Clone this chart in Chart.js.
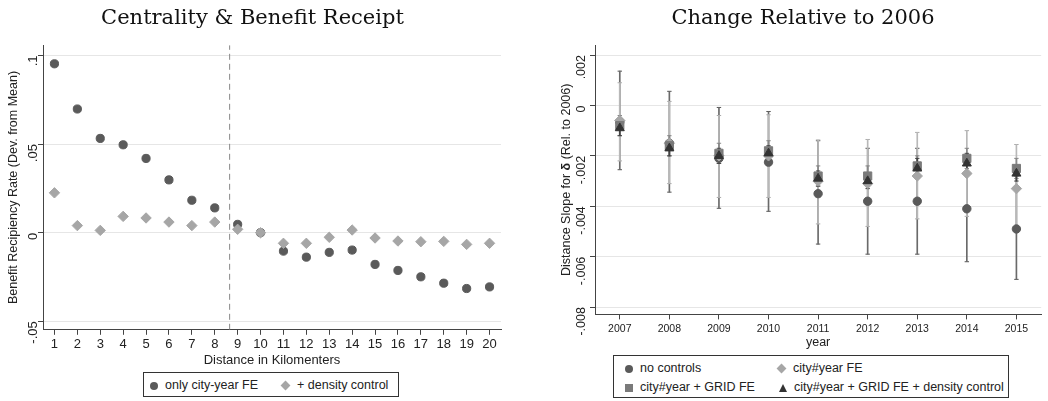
<!DOCTYPE html>
<html>
<head>
<meta charset="utf-8">
<script src="https://cdn.jsdelivr.net/npm/chart.js@4.4.0/dist/chart.umd.min.js"></script>
<style>
body { margin: 0; background: #fff; width: 1048px; height: 401px; overflow: hidden; position: relative; font-family: "Liberation Sans", Arial, sans-serif; }
#leftBox { position: absolute; left: 0; top: 0; width: 510px; height: 368px; }
#rightBox { position: absolute; left: 540px; top: 0; width: 508px; height: 350px; }
.legend { position: absolute; border: 1px solid #333; font-size: 12.5px; color: #222; box-sizing: border-box; }
.item { position: absolute; white-space: nowrap; line-height: 14px; }
.mk { display: inline-block; vertical-align: middle; margin-right: 7px; }
.circ { width: 8px; height: 8px; border-radius: 50%; }
.diam { width: 7px; height: 7px; transform: rotate(45deg); margin-left: 1px; margin-right: 8px; }
.sq { width: 8px; height: 8px; }
.tri { width: 0; height: 0; border-left: 4.5px solid transparent; border-right: 4.5px solid transparent; border-bottom: 8px solid #333; }
</style>
</head>
<body>
<div id="leftBox"><canvas id="leftChart"></canvas></div>
<div id="rightBox"><canvas id="rightChart"></canvas></div>

<div class="legend" style="left:143px; top:372px; width:256px; height:25px;">
  <div class="item" style="left:6px; top:5px;"><span class="mk circ" style="background:#5a5a5a"></span>only city-year FE</div>
  <div class="item" style="left:137px; top:5px;"><span class="mk diam" style="background:#a6a6a6"></span>+ density control</div>
</div>

<div class="legend" style="left:613px; top:355px; width:396px; height:43px;">
  <div class="item" style="left:11px; top:5px;"><span class="mk circ" style="background:#5a5a5a"></span>no controls</div>
  <div class="item" style="left:163px; top:5px;"><span class="mk diam" style="background:#a6a6a6"></span>city#year FE</div>
  <div class="item" style="left:11px; top:24px;"><span class="mk sq" style="background:#7a7a7a"></span>city#year + GRID FE</div>
  <div class="item" style="left:165px; top:24px;"><span class="mk tri"></span>city#year + GRID FE + density control</div>
</div>

<script>
// Left panel data
const distances = [1, 2, 3, 4, 5, 6, 7, 8, 9, 10, 11, 12, 13, 14, 15, 16, 17, 18, 19, 20];
const onlyCityYear = [0.0953, 0.0698, 0.0532, 0.0496, 0.0419, 0.0298, 0.0183, 0.0140, 0.0047, 0.0,
    -0.0104, -0.0138, -0.0111, -0.0098, -0.0179, -0.0213, -0.0249, -0.0285, -0.0315, -0.0306];
const densityControl = [0.0225, 0.0040, 0.0013, 0.0092, 0.0083, 0.0060, 0.0040, 0.0060, 0.0019, 0.0,
    -0.0060, -0.0060, -0.0026, 0.0015, -0.0030, -0.0047, -0.0051, -0.0049, -0.0066, -0.0060];
const cutoff = 8.65;
const leftYTicks = [-0.05, 0, 0.05, 0.1];

// Right panel data
const years = ['2007', '2008', '2009', '2010', '2011', '2012', '2013', '2014', '2015'];
const noCtrlEst = [-0.00065, -0.0015, -0.0021, -0.00225, -0.0035, -0.0038, -0.0038, -0.0041, -0.0049];
const noCtrlLo = [-0.00255, -0.00344, -0.00408, -0.0042, -0.0055, -0.0059, -0.0059, -0.0062, -0.0069];
const noCtrlHi = [0.00136, 0.00056, -0.00008, -0.00024, -0.0014, -0.0017, -0.0017, -0.0020, -0.0028];
const cityEst = [-0.0006, -0.0015, -0.0020, -0.0020, -0.0030, -0.0031, -0.0028, -0.0027, -0.0033];
const cityLo = [-0.0022, -0.0031, -0.00365, -0.00365, -0.0047, -0.0048, -0.0045, -0.0044, -0.0050];
const cityHi = [0.0009, 0.00016, -0.0004, -0.00037, -0.00137, -0.00135, -0.00107, -0.0010, -0.00155];
const gridEst = [-0.0008, -0.0016, -0.0019, -0.0018, -0.0028, -0.0028, -0.0024, -0.0021, -0.0025];
const gridLo = [-0.0012, -0.0020, -0.0023, -0.0022, -0.0032, -0.0032, -0.0028, -0.0025, -0.0029];
const gridHi = [-0.0004, -0.0012, -0.0015, -0.0014, -0.0024, -0.0024, -0.0020, -0.0017, -0.0021];
const densEst = [-0.0009, -0.0017, -0.0020, -0.0019, -0.0029, -0.0030, -0.0025, -0.0023, -0.0027];
const densLo = [-0.0012, -0.0020, -0.0023, -0.0022, -0.0032, -0.0033, -0.0029, -0.0027, -0.0030];
const densHi = [-0.0006, -0.0014, -0.0017, -0.0016, -0.0026, -0.0027, -0.0021, -0.0019, -0.0024];
const rightYTicks = [-0.008, -0.006, -0.004, -0.002, 0, 0.002];

const stataNum = v => v === 0 ? '0' : String(v).replace('0.', '.');
const sans = '"Liberation Sans", Arial, sans-serif';
const serif = '"DejaVu Serif", "Liberation Serif", serif';

// Left chart
new Chart(document.getElementById('leftChart').getContext('2d'), {
    type: 'scatter',
    data: {
        datasets: [
            {
                label: '+ density control',
                data: distances.map((d, i) => ({ x: d, y: densityControl[i] })),
                pointStyle: 'rectRot',
                pointRadius: 5.2,
                backgroundColor: '#a6a6a6',
                borderColor: '#a6a6a6',
                order: 0,
            },
            {
                label: 'only city-year FE',
                data: distances.map((d, i) => ({ x: d, y: onlyCityYear[i] })),
                pointStyle: 'circle',
                pointRadius: 4.1,
                backgroundColor: '#5a5a5a',
                borderColor: '#5a5a5a',
                order: 1,
            },
            {
                label: 'cutoff',
                type: 'line',
                data: [{ x: cutoff, y: -0.0548 }, { x: cutoff, y: 0.1058 }],
                borderColor: '#888',
                borderWidth: 1,
                borderDash: [6, 4],
                pointRadius: 0,
                order: 2,
            },
        ],
    },
    options: {
        animation: false,
        responsive: true,
        maintainAspectRatio: false,
        layout: { padding: { top: 0, right: 9, bottom: 0, left: 4 } },
        plugins: {
            legend: { display: false },
            tooltip: { enabled: false },
            title: {
                display: true,
                text: 'Centrality & Benefit Receipt',
                color: '#111',
                font: { family: serif, size: 21, weight: 'normal' },
                padding: { top: 6, bottom: 14 },
            },
        },
        scales: {
            x: {
                type: 'linear',
                min: 0.5,
                max: 20.5,
                afterBuildTicks: scale => { scale.ticks = distances.map(v => ({ value: v })); },
                ticks: { color: '#222', font: { family: sans, size: 13 }, padding: 2, maxRotation: 0 },
                grid: { drawOnChartArea: false, tickLength: 5, tickColor: '#444' },
                border: { color: '#444', width: 1 },
                title: { display: true, text: 'Distance in Kilomenters', color: '#222', font: { family: sans, size: 13 }, padding: { top: -2, bottom: 0 } },
            },
            y: {
                min: -0.0548,
                max: 0.1058,
                afterBuildTicks: scale => { scale.ticks = leftYTicks.map(v => ({ value: v })); },
                afterFit: scale => { scale.width = 39; },
                ticks: { color: '#222', font: { family: sans, size: 13 }, minRotation: 90, maxRotation: 90, padding: 5, callback: stataNum },
                grid: { color: '#e6e6e6', lineWidth: 1, tickLength: 5, tickColor: '#444' },
                border: { color: '#444', width: 1 },
                title: { display: true, text: 'Benefit Recipiency Rate (Dev. from Mean)', color: '#222', font: { family: sans, size: 12.5 }, padding: { top: 2, bottom: 0 } },
            },
        },
    },
});

// Right chart
const ciBar = (lo, hi, color, order) => ({
    type: 'bar',
    data: years.map((y, i) => [lo[i], hi[i]]),
    backgroundColor: color,
    barThickness: 1,
    grouped: false,
    order: order,
});
const ciCap = (vals, color, order) => ({
    type: 'line',
    data: vals,
    showLine: false,
    pointStyle: 'line',
    pointRadius: 2.2,
    borderWidth: 1,
    borderColor: color,
    order: order,
});
const marker = (vals, style, radius, color, order) => ({
    type: 'line',
    data: vals,
    showLine: false,
    pointStyle: style,
    pointRadius: radius,
    backgroundColor: color,
    borderColor: color,
    order: order,
});

// y title with a bold delta, drawn where the axis title sits
const deltaTitle = {
    id: 'deltaTitle',
    afterDraw(chart) {
        const { ctx, chartArea } = chart;
        const ys = chart.scales.y;
        const parts = [
            ['Distance Slope for ', 'normal'],
            ['δ', 'bold'],
            [' (Rel. to 2006)', 'normal'],
        ];
        ctx.save();
        ctx.fillStyle = '#222';
        ctx.textBaseline = 'middle';
        ctx.textAlign = 'left';
        let total = 0;
        parts.forEach(p => {
            ctx.font = p[1] + ' 12.5px ' + sans;
            total += ctx.measureText(p[0]).width;
        });
        ctx.translate(ys.left + 9, (chartArea.top + chartArea.bottom) / 2);
        ctx.rotate(-Math.PI / 2);
        let x = -total / 2;
        parts.forEach(p => {
            ctx.font = p[1] + ' 12.5px ' + sans;
            ctx.fillText(p[0], x, 0);
            x += ctx.measureText(p[0]).width;
        });
        ctx.restore();
    },
};

new Chart(document.getElementById('rightChart').getContext('2d'), {
    type: 'bar',
    data: {
        labels: years,
        datasets: [
            marker(densEst, 'triangle', 5.2, '#333333', 0),
            marker(gridEst, 'rect', 5.8, '#7a7a7a', 1),
            marker(cityEst, 'rectRot', 5.2, '#a6a6a6', 2),
            marker(noCtrlEst, 'circle', 4.2, '#5a5a5a', 3),
            ciBar(densLo, densHi, '#444', 4), ciCap(densLo, '#444', 4), ciCap(densHi, '#444', 4),
            ciBar(gridLo, gridHi, '#888', 5), ciCap(gridLo, '#888', 5), ciCap(gridHi, '#888', 5),
            ciBar(cityLo, cityHi, '#b8b8b8', 6), ciCap(cityLo, '#aaa', 6), ciCap(cityHi, '#aaa', 6),
            ciBar(noCtrlLo, noCtrlHi, '#6a6a6a', 7), ciCap(noCtrlLo, '#555', 7), ciCap(noCtrlHi, '#555', 7),
        ],
    },
    plugins: [deltaTitle],
    options: {
        animation: false,
        responsive: true,
        maintainAspectRatio: false,
        layout: { padding: { top: 0, right: 0, bottom: 0, left: 18 } },
        plugins: {
            legend: { display: false },
            tooltip: { enabled: false },
            title: {
                display: true,
                text: 'Change Relative to 2006',
                color: '#111',
                font: { family: serif, size: 21, weight: 'normal' },
                padding: { top: 6, bottom: 14 },
            },
        },
        scales: {
            x: {
                type: 'category',
                offset: true,
                ticks: { color: '#222', font: { family: sans, size: 10.5 }, padding: 3, maxRotation: 0 },
                grid: { offset: false, drawOnChartArea: false, tickLength: 5, tickColor: '#444' },
                border: { color: '#444', width: 1 },
                title: { display: true, text: 'year', color: '#222', font: { family: sans, size: 12.5 }, padding: { top: -3, bottom: 0 } },
            },
            y: {
                min: -0.00829,
                max: 0.00239,
                afterBuildTicks: scale => { scale.ticks = rightYTicks.map(v => ({ value: v })); },
                afterFit: scale => { scale.width = 37; },
                ticks: { color: '#222', font: { family: sans, size: 12.5 }, minRotation: 90, maxRotation: 90, padding: 8, callback: stataNum },
                grid: { color: '#e6e6e6', lineWidth: 1, tickLength: 5, tickColor: '#444' },
                border: { color: '#444', width: 1 },
                title: { display: false },
            },
        },
    },
});
</script>
</body>
</html>
